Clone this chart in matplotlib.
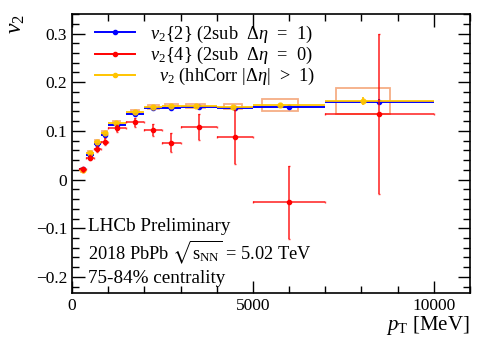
import matplotlib
matplotlib.use("Agg")
import matplotlib.pyplot as plt
from matplotlib.patches import Rectangle
from matplotlib.lines import Line2D
import numpy as np

plt.rcParams['font.family'] = ['Liberation Serif', 'DejaVu Serif']
plt.rcParams['mathtext.fontset'] = 'custom'
plt.rcParams['mathtext.rm'] = 'Liberation Serif'
plt.rcParams['mathtext.it'] = 'Liberation Serif:italic'
plt.rcParams['mathtext.fallback'] = 'stix'

# pT bins [MeV]
bin_lo = np.array([200, 400, 600, 800, 1000, 1500, 2000, 2500, 3000, 4000, 5000, 7000])
bin_hi = np.array([400, 600, 800, 1000, 1500, 2000, 2500, 3000, 4000, 5000, 7000, 10000])
bin_mid = (bin_lo + bin_hi) / 2

# v2{2} (2sub, delta eta = 1)
v22 = np.array([0.022, 0.050, 0.073, 0.092, 0.113, 0.135, 0.147, 0.148, 0.149, 0.147, 0.149, 0.160])
v22_err = np.array([0.002, 0.002, 0.002, 0.002, 0.002, 0.002, 0.002, 0.002, 0.002, 0.002, 0.003, 0.006])

# v2{4} (2sub, delta eta = 0)
v24 = np.array([0.021, 0.045, 0.063, 0.078, 0.105, 0.118, 0.102, 0.076, 0.108, 0.088, -0.047, 0.135])
v24_err = np.array([0.005, 0.005, 0.006, 0.007, 0.008, 0.009, 0.013, 0.020, 0.027, 0.055, 0.075, 0.165])

# v2 hhCorr |delta eta| > 1
hh_x = np.array([300, 500, 700, 900, 1230, 1740, 2250, 2750, 3420, 4440, 5750, 8050])
hh = np.array([0.019, 0.054, 0.077, 0.095, 0.116, 0.138, 0.150, 0.152, 0.152, 0.150, 0.153, 0.161])
hh_err = np.array([0.001, 0.001, 0.001, 0.001, 0.001, 0.001, 0.001, 0.001, 0.001, 0.001, 0.002, 0.008])
hh_sys = np.array([0.004, 0.004, 0.004, 0.004, 0.004, 0.004, 0.004, 0.004, 0.004, 0.005, 0.012, 0.027])
hh_sys_w = np.array([40, 50, 60, 70, 100, 120, 150, 180, 260, 250, 500, 750])

blue = '#0000ff'
red = '#ff0000'
gold = '#ffc400'
box_col = '#f4a070'

fig = plt.figure(figsize=(4.88, 3.52), dpi=100)
ax = fig.add_axes([0.1475, 0.1676, 0.8155, 0.7924])

# systematic boxes for hhCorr
for x, y, sy, w in zip(hh_x, hh, hh_sys, hh_sys_w):
    ax.add_patch(Rectangle((x - w, y - sy), 2 * w, 2 * sy, fill=False,
                           edgecolor=box_col, lw=1.3, alpha=0.85, zorder=2))

ax.errorbar(bin_mid, v22, xerr=[bin_mid - bin_lo, bin_hi - bin_mid], yerr=v22_err,
            fmt='o', color=blue, ms=3, elinewidth=1.4, capsize=0, zorder=3)
ax.errorbar(hh_x, hh, xerr=[hh_x - bin_lo, bin_hi - hh_x], yerr=hh_err,
            fmt='o', color=gold, ms=3.5, elinewidth=1.4, capsize=0, alpha=0.9, zorder=4)
ax.errorbar(bin_mid, v24, xerr=[bin_mid - bin_lo, bin_hi - bin_mid], yerr=v24_err,
            fmt='o', color=red, ms=3, elinewidth=1.3, capsize=1, ecolor=(1, 0, 0, 0.75), zorder=5)

ax.set_xlim(0, 11000)
ax.set_ylim(-0.233, 0.34)
ax.set_xticks([0, 5000, 10000])
ax.set_xticks(np.arange(0, 11001, 1000), minor=True)
ax.set_yticks([-0.2, -0.1, 0, 0.1, 0.2, 0.3])
ax.set_yticklabels(['\u22120.2', '\u22120.1', '0', '0.1', '0.2', '0.3'])
ax.set_yticks(np.arange(-0.22, 0.341, 0.02), minor=True)
ax.tick_params(which='both', direction='in', top=True, right=True, labelsize=12.5)
ax.tick_params(which='major', length=9, width=1)
ax.tick_params(which='minor', length=5, width=1)
for s in ax.spines.values():
    s.set_linewidth(1.2)

ax.set_ylabel(r'$v_2$', fontsize=17, loc='top', labelpad=6)
ax.set_xlabel(r'$p_{\rm T}$ [MeV]', fontsize=15, loc='right', labelpad=0)

handles = [Line2D([], [], color=blue, marker='o', ms=3, lw=1.4),
           Line2D([], [], color=red, marker='o', ms=3, lw=1.4),
           Line2D([], [], color=gold, marker='o', ms=3, lw=1.4)]
labels = [r'$v_2$$\{2\}$ (2sub  $\Delta\eta$  =  1)',
          r'$v_2$$\{4\}$ (2sub  $\Delta\eta$  =  0)',
          r'  $v_2$ (hhCorr $|\Delta\eta|$  >  1)']
ax.legend(handles, labels, loc='upper left', bbox_to_anchor=(0.058, 0.965), frameon=False,
          fontsize=13.2, handlelength=2.2, labelspacing=0.0, handletextpad=0.8,
          borderaxespad=0, borderpad=0)

ax.text(0.04, 0.221, 'LHCb Preliminary', transform=ax.transAxes, fontsize=13.8)
ax.text(0.04, 0.122, r'2018 PbPb $\sqrt{\mathrm{s}_{\rm NN}}$ = 5.02 TeV', transform=ax.transAxes, fontsize=13.2)
ax.text(0.04, 0.036, '75-84% centrality', transform=ax.transAxes, fontsize=13.8)

fig.savefig('out.png', dpi=100)
